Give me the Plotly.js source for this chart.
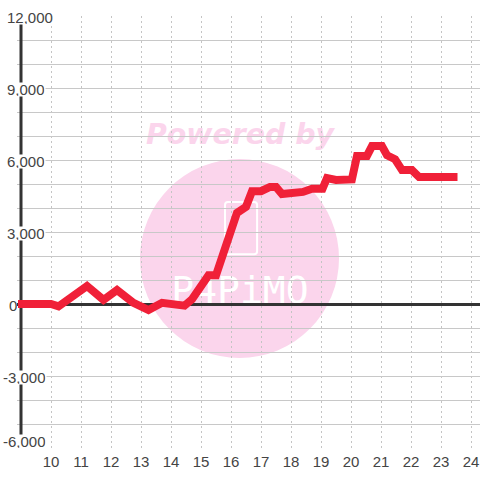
<!DOCTYPE html>
<html>
<head>
<meta charset="utf-8">
<script src="https://cdn.plot.ly/plotly-3.0.1.min.js"></script>
<style>html,body{margin:0;padding:0;background:#fff}#c{width:480px;height:480px}</style>
</head>
<body>
<div id="c"></div>
<script>
var hours = [8.9,9.5,10,10.25,10.7,11.2,11.75,12.2,12.75,13.25,13.7,14.2,14.45,14.7,15.25,15.5,16.2,16.5,16.7,17,17.3,17.5,17.7,18.4,18.7,19.05,19.2,19.5,20.03,20.2,20.53,20.7,21.03,21.2,21.47,21.7,22.03,22.27,23,23.55];
var values = [0,0,0,-100,350,750,170,580,50,-250,50,-70,-70,200,1200,1200,3800,4050,4700,4700,4880,4880,4580,4670,4800,4800,5250,5170,5190,6170,6170,6580,6580,6200,6030,5580,5580,5290,5290,5290];
var yTickValues = [12000,9000,6000,3000,0,-3000,-6000];
var yTickLabels = ['12,000','9,000','6,000','3,000','0','-3,000','-6,000'];
var xTickValues = [10,11,12,13,14,15,16,17,18,19,20,21,22,23,24];

var ink = '#444444', pink = '#fbd5ec', dark = '#333333';
var annotations = yTickValues.map(function (v, i) {
  return {
    xref: 'paper', yref: 'y', x: 0, y: v,
    xanchor: 'left', yanchor: 'middle',
    xshift: v < 0 ? -15 : (v === 0 ? -9 : -11),
    yshift: v === -6000 ? 7 : -1,
    text: yTickLabels[i], showarrow: false,
    font: {family: 'Liberation Sans', size: 15, color: ink},
    bgcolor: v === 0 ? 'rgba(0,0,0,0)' : '#ffffff', borderpad: 0, height: 13
  };
});
var phone = 'M15.9,4250 L16.77,4250 Q16.87,4250 16.87,4125 L16.87,2195 Q16.87,2070 16.77,2070 L15.9,2070 Q15.8,2070 15.8,2195 L15.8,4125 Q15.8,4250 15.9,4250 Z';
var shapes = [
  {type: 'circle', layer: 'below', xref: 'x', yref: 'y', x0: 12.967, x1: 19.6, y0: 6042, y1: -2250, fillcolor: pink, line: {width: 0}},
  {type: 'path', layer: 'below', xref: 'x', yref: 'y', path: phone, fillcolor: 'rgba(0,0,0,0)', line: {width: 2, color: '#ffffff'}},
  {type: 'rect', layer: 'below', xref: 'x', yref: 'y', x0: 13, x1: 19.6, y0: 7800, y1: 6550, fillcolor: 'rgba(0,0,0,0)', line: {width: 0},
    label: {text: 'Powered by', textposition: 'middle center', font: {family: 'DejaVu Sans', size: 28.4, weight: 'bold', style: 'italic', color: pink}}},
  {type: 'rect', layer: 'below', xref: 'x', yref: 'y', x0: 13, x1: 19.6, y0: 1500, y1: -100, fillcolor: 'rgba(0,0,0,0)', line: {width: 0},
    label: {text: 'P4PiMO', textposition: 'middle center', font: {family: 'DejaVu Sans Mono', size: 38, color: '#ffffff'}}},
  {type: 'line', layer: 'between', xref: 'x', yref: 'y', x0: 9, x1: 9, y0: 11667, y1: -5500, line: {width: 3, color: dark}}
];
Plotly.newPlot('c', [{
  x: hours, y: values, mode: 'lines', type: 'scatter', cliponaxis: false,
  line: {color: '#f02038', width: 8, shape: 'linear'}, hoverinfo: 'skip'
}], {
  width: 480, height: 480, showlegend: false,
  paper_bgcolor: '#ffffff', plot_bgcolor: 'rgba(0,0,0,0)',
  margin: {l: 17, r: 0, t: 16, b: 32, pad: 0},
  xaxis: {range: [8.8667, 24.3], tickvals: xTickValues, ticks: '', showline: false, zeroline: false,
    gridcolor: '#c4c4c4', gridwidth: 1, griddash: '2px,3px', ticklabelstandoff: 3,
    tickfont: {family: 'Liberation Sans', size: 15, color: ink}},
  yaxis: {range: [-6000, 12000], dtick: 1000, showticklabels: false, ticks: '', showline: false,
    gridcolor: '#c8c8c8', gridwidth: 1,
    zeroline: true, zerolinecolor: dark, zerolinewidth: 3},
  annotations: annotations, shapes: shapes
}, {displayModeBar: false, staticPlot: true});
</script>
</body>
</html>
